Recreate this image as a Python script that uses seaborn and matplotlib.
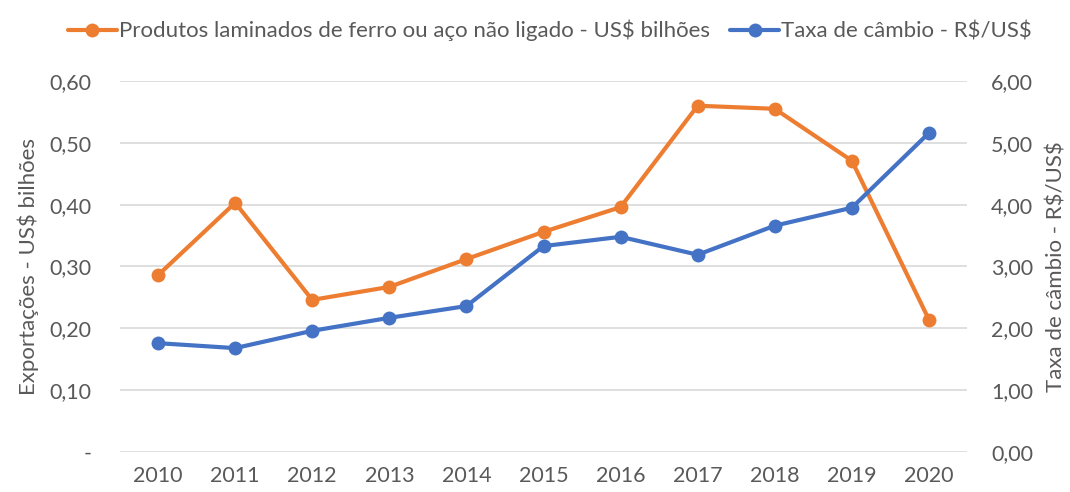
import matplotlib
matplotlib.use("Agg")
import matplotlib.pyplot as plt
import matplotlib.ticker as mticker
from matplotlib.lines import Line2D
import seaborn as sns
import pandas as pd

anos = [2010, 2011, 2012, 2013, 2014, 2015, 2016, 2017, 2018, 2019, 2020]
exportacoes = [0.286, 0.403, 0.246, 0.267, 0.312, 0.356, 0.396, 0.560, 0.555, 0.471, 0.214]
cambio = [1.76, 1.68, 1.96, 2.17, 2.36, 3.33, 3.48, 3.19, 3.66, 3.95, 5.16]

LARANJA = "#ED7D31"
AZUL = "#4472C4"
CINZA_TEXTO = "#595959"

sns.set_theme(style="white")
plt.rcParams["font.family"] = ["Lato", "DejaVu Sans"]
plt.rcParams["text.parse_math"] = False  # os "$" sao texto normal

df = pd.DataFrame({"pos": range(len(anos)), "exp": exportacoes, "cambio": cambio})

fig = plt.figure(figsize=(10.7, 4.92), dpi=100)
ax = fig.add_axes([0.1117, 0.0813, 0.7925, 0.7541])
ax2 = ax.twinx()

ax.set_ylim(0, 0.60)
ax.yaxis.set_major_locator(mticker.MultipleLocator(0.1))
ax.grid(axis="y", color="#D9D9D9", linewidth=1.2)
ax.set_axisbelow(True)

sns.lineplot(data=df, x="pos", y="exp", ax=ax, color=LARANJA, linewidth=3,
             marker="o", markersize=10, markeredgewidth=0, zorder=3)
sns.lineplot(data=df, x="pos", y="cambio", ax=ax2, color=AZUL, linewidth=3,
             marker="o", markersize=10, markeredgewidth=0, zorder=3)

ax.set_xlim(-0.5, len(anos) - 0.5)
ax.set_xticks(range(len(anos)))
ax.set_xticklabels([str(a) for a in anos])

def fmt_esq(v, _):
    if abs(v) < 1e-9:
        return "-"
    return f"{v:.2f}".replace(".", ",")

ax.yaxis.set_major_formatter(mticker.FuncFormatter(fmt_esq))
ax2.set_ylim(0, 6)
ax2.yaxis.set_major_locator(mticker.MultipleLocator(1))
ax2.yaxis.set_major_formatter(mticker.FuncFormatter(lambda v, _: f"{v:.2f}".replace(".", ",")))

for a in (ax, ax2):
    for s in a.spines.values():
        s.set_visible(False)
    a.tick_params(axis="both", length=0, labelsize=15.5, labelcolor=CINZA_TEXTO)

ax.tick_params(axis="x", pad=10)
ax.tick_params(axis="y", pad=20)
ax2.tick_params(axis="y", pad=17)

ax.set_xlabel("")
ax.set_ylabel("Exportações - US$ bilhões", fontsize=16, color=CINZA_TEXTO)
ax2.set_ylabel("Taxa de câmbio - R$/US$", fontsize=16, color=CINZA_TEXTO)
ax.yaxis.set_label_coords(-0.095, 0.5)
ax2.yaxis.set_label_coords(1.093, 0.5)

handles = [
    Line2D([], [], color=LARANJA, linewidth=3, marker="o", markersize=10, markeredgewidth=0),
    Line2D([], [], color=AZUL, linewidth=3, marker="o", markersize=10, markeredgewidth=0),
]
labels = ["Produtos laminados de ferro ou aço não ligado - US$ bilhões", "Taxa de câmbio - R$/US$"]
fig.legend(handles, labels, loc="upper center", bbox_to_anchor=(0.514, 1.0), ncol=2,
           frameon=False, fontsize=16, labelcolor=CINZA_TEXTO, handlelength=2.2,
           handletextpad=0.1, columnspacing=0.9)

fig.savefig("out.png", dpi=100)
